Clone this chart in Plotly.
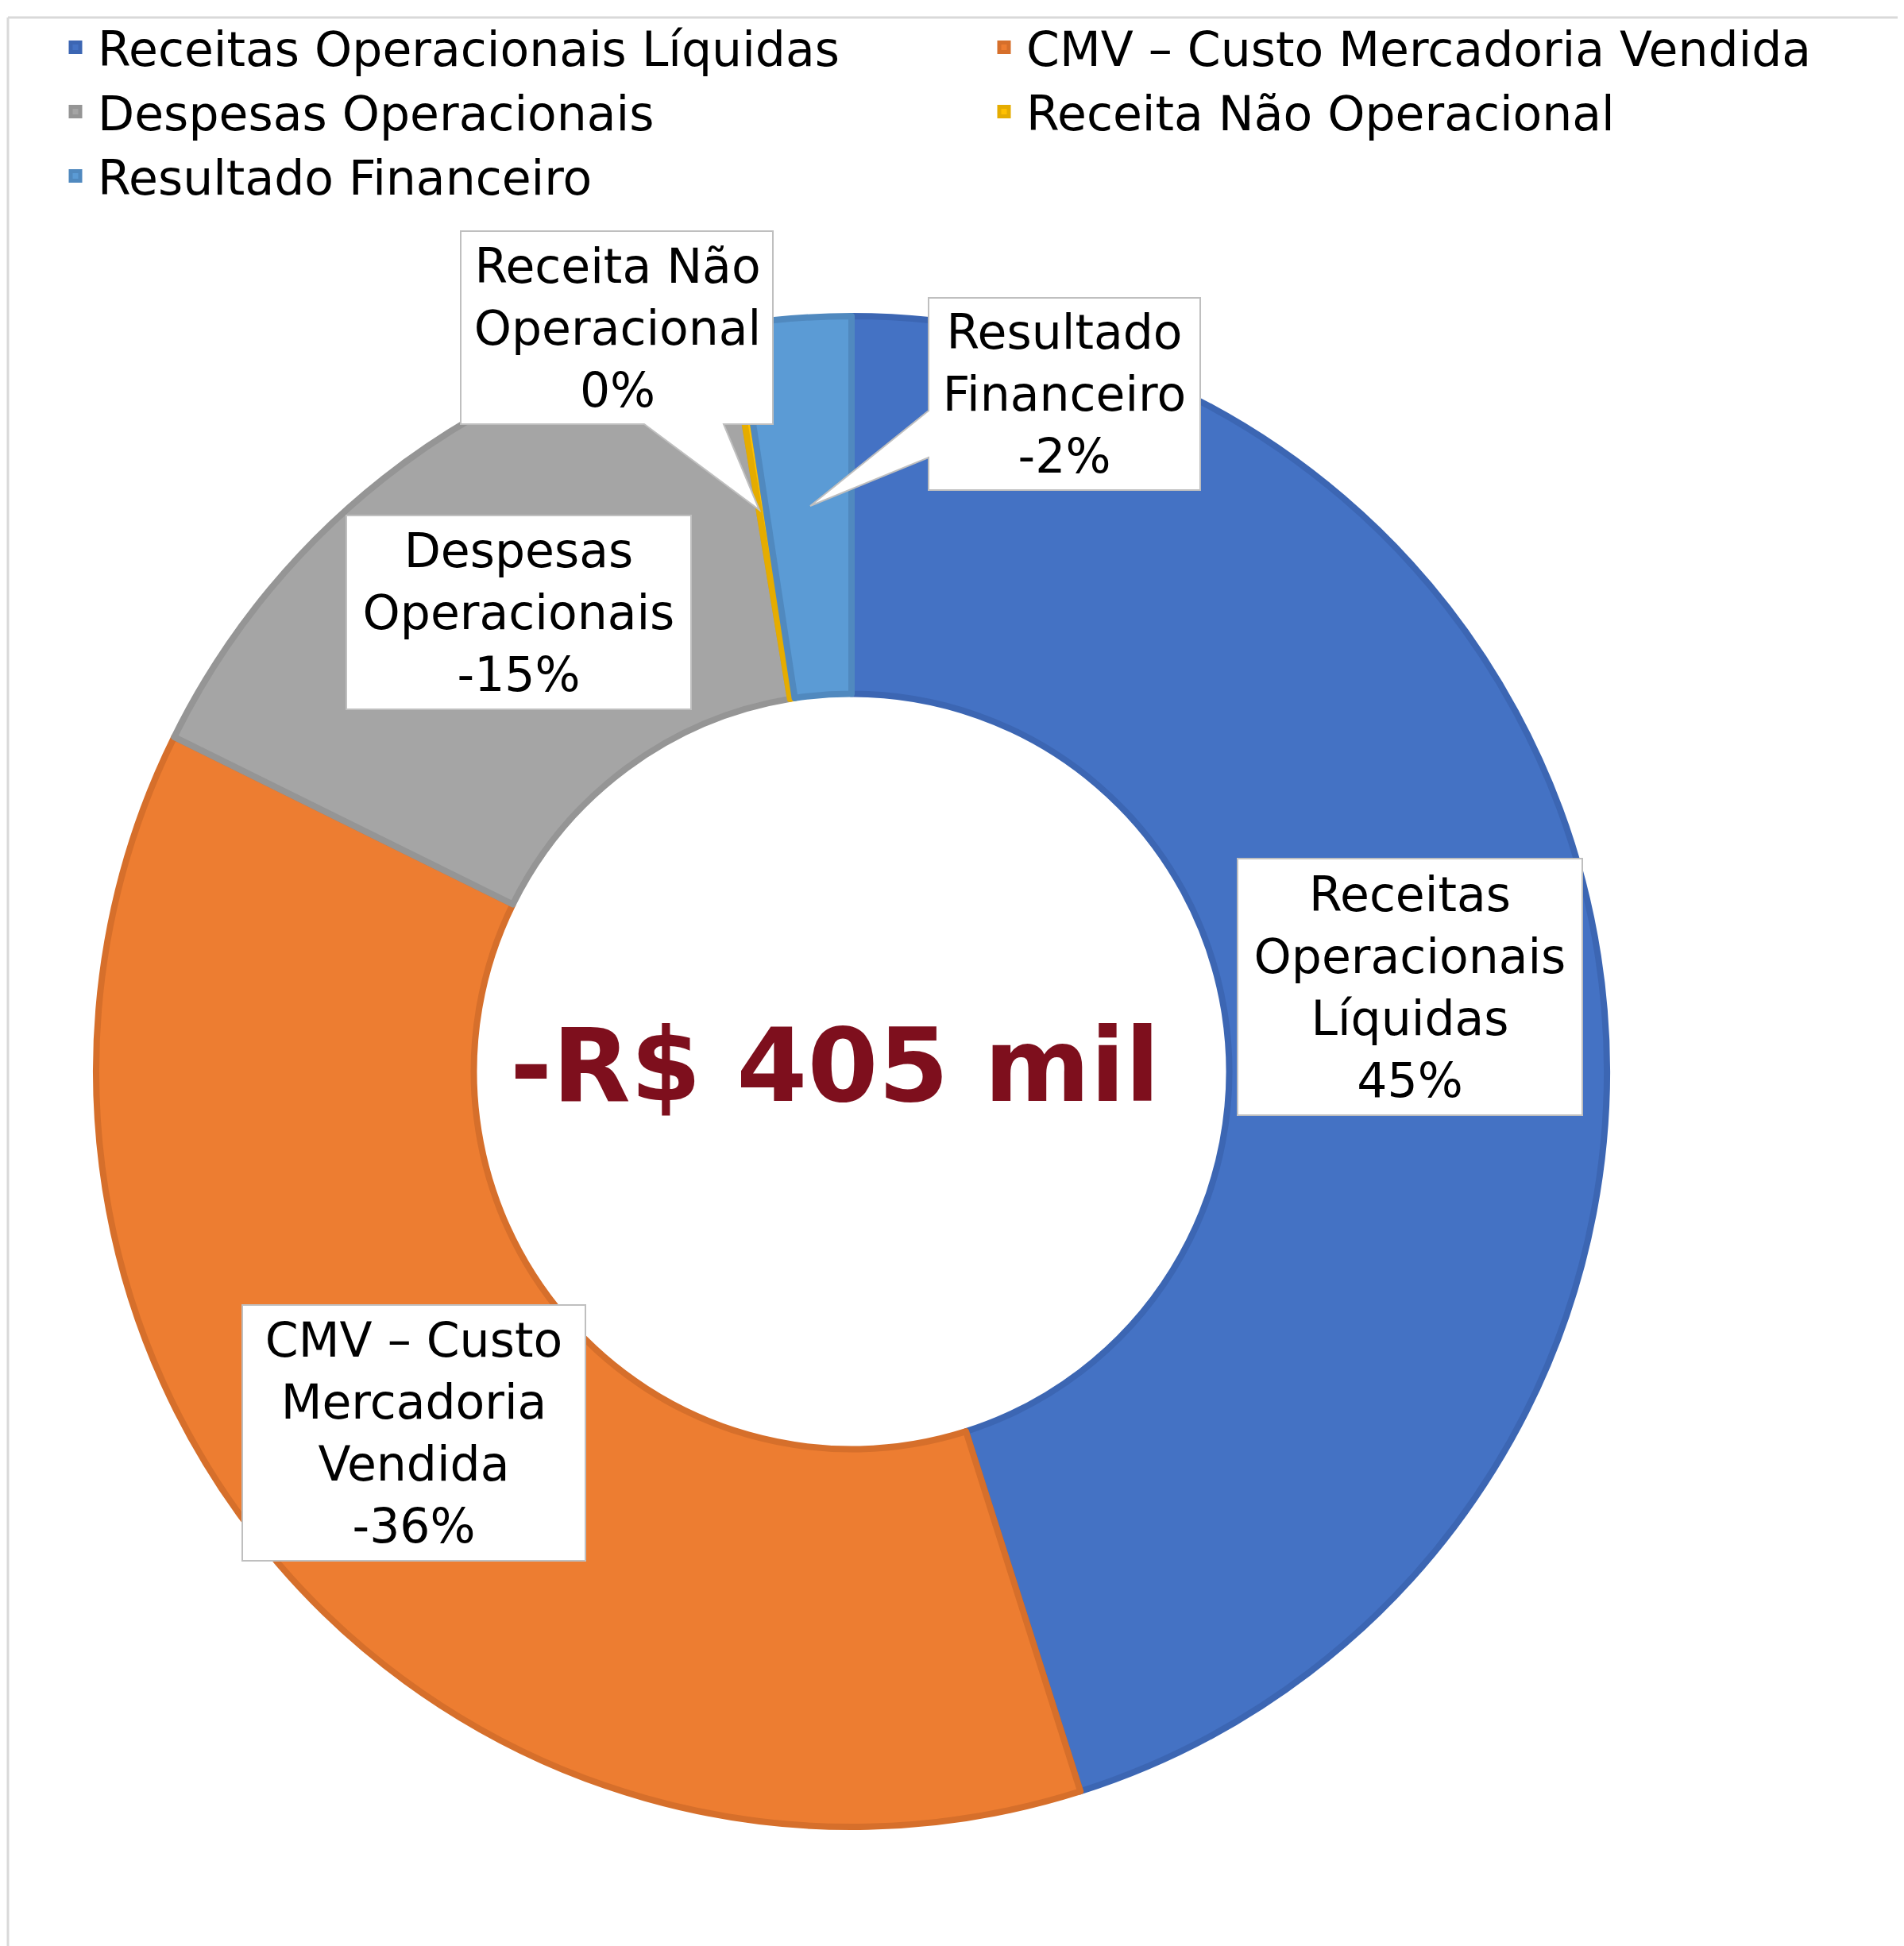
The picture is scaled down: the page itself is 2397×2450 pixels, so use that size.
import plotly.graph_objects as go

W, H = 2397, 2450

categorias = [
    "Receitas Operacionais Líquidas",
    "CMV – Custo Mercadoria Vendida",
    "Despesas Operacionais",
    "Receita Não Operacional",
    "Resultado Financeiro",
]
rotulos = [
    "Receitas<br>Operacionais<br>Líquidas",
    "CMV – Custo<br>Mercadoria<br>Vendida",
    "Despesas<br>Operacionais",
    "Receita Não<br>Operacional",
    "Resultado<br>Financeiro",
]
# participacao de cada item no total (tamanho das fatias)
participacao = [45.1, 37.2, 15.1, 0.2, 2.4]
percentuais = ["45%", "-36%", "-15%", "0%", "-2%"]
resultado = "-R$ 405 mil"

cores = ["#4472C4", "#ED7D31", "#A5A5A5", "#FFC000", "#5B9BD5"]
bordas = ["#3C66B3", "#D66F2B", "#959595", "#E5AC00", "#5089BF"]

FONTE = "DejaVu Sans"
OFF = 8  # margem padrao do body da pagina


def px(x):
    return (x - OFF) / W


def py(y):
    return 1 - (y - OFF) / H


def caminho(pontos):
    # pontos em pixels -> path em coordenadas paper
    s = "M " + " L ".join("%.5f,%.5f" % (px(x), py(y)) for x, y in pontos)
    return s + " Z"


# centro e raio da rosca (pixels)
cx, cy, r = 1072, 1349, 951

fig = go.Figure()
fig.add_trace(go.Pie(
    labels=categorias,
    values=participacao,
    hole=0.5,
    sort=False,
    direction="clockwise",
    rotation=0,
    textinfo="none",
    marker=dict(colors=cores, line=dict(color=bordas, width=8)),
    domain=dict(x=[px(cx - r), px(cx + r)], y=[py(cy + r), py(cy - r)]),
))

# caixas dos rotulos: (indice, centro x, centro y, largura, altura, borda)
caixas = [
    (0, 1775, 1242, 432, 321, True),
    (1, 521, 1804, 430, 320, True),
    (2, 653, 771, 432, 242, True),
    (3, 777, 413, 393, 243, False),
    (4, 1340, 496, 342, 242, False),
]

anotacoes = []
for i, x, y, w, h, borda in caixas:
    anotacoes.append(dict(
        text=rotulos[i] + "<br>" + percentuais[i],
        x=px(x), y=py(y), xref="paper", yref="paper",
        xanchor="center", yanchor="middle",
        width=w, height=h, showarrow=False, align="center", valign="middle",
        bgcolor="white" if borda else "rgba(0,0,0,0)",
        bordercolor="#BFBFBF" if borda else "rgba(0,0,0,0)",
        borderwidth=2, borderpad=0,
        font=dict(family=FONTE, size=60, color="black"),
    ))

anotacoes.append(dict(
    text="<b>" + resultado + "</b>",
    x=px(1051), y=py(1341), xref="paper", yref="paper",
    xanchor="center", yanchor="middle", showarrow=False,
    font=dict(family=FONTE, size=128, color="#7E0F1D"),
))

formas = [
    # moldura do grafico
    dict(type="line", xref="paper", yref="paper", x0=px(10), x1=px(10), y0=py(22), y1=-0.01,
         line=dict(color="#D9D9D9", width=3)),
    dict(type="line", xref="paper", yref="paper", x0=px(10), x1=1.01, y0=py(22), y1=py(22),
         line=dict(color="#D9D9D9", width=3)),
    # balao Receita Nao Operacional
    dict(type="path", xref="paper", yref="paper", fillcolor="white",
         line=dict(color="#BFBFBF", width=2),
         path=caminho([(580, 291), (973, 291), (973, 534), (911, 534), (956, 642),
                       (811, 534), (580, 534)])),
    # balao Resultado Financeiro
    dict(type="path", xref="paper", yref="paper", fillcolor="white",
         line=dict(color="#BFBFBF", width=2),
         path=caminho([(1169, 375), (1511, 375), (1511, 617), (1169, 617), (1169, 576),
                       (1020, 637), (1169, 517)])),
]

fig.update_layout(
    width=W, height=H, autosize=False,
    margin=dict(l=0, r=0, t=0, b=0),
    paper_bgcolor="white", plot_bgcolor="white",
    font=dict(family=FONTE, color="black"),
    showlegend=True,
    legend=dict(
        orientation="h", x=px(67), y=py(14), xanchor="left", yanchor="top",
        entrywidth=1108, entrywidthmode="pixels", itemwidth=46,
        bgcolor="rgba(0,0,0,0)",
        font=dict(family=FONTE, size=60, color="black"),
        traceorder="normal",
    ),
    annotations=anotacoes,
    shapes=formas,
)

fig.write_html("out.html")
